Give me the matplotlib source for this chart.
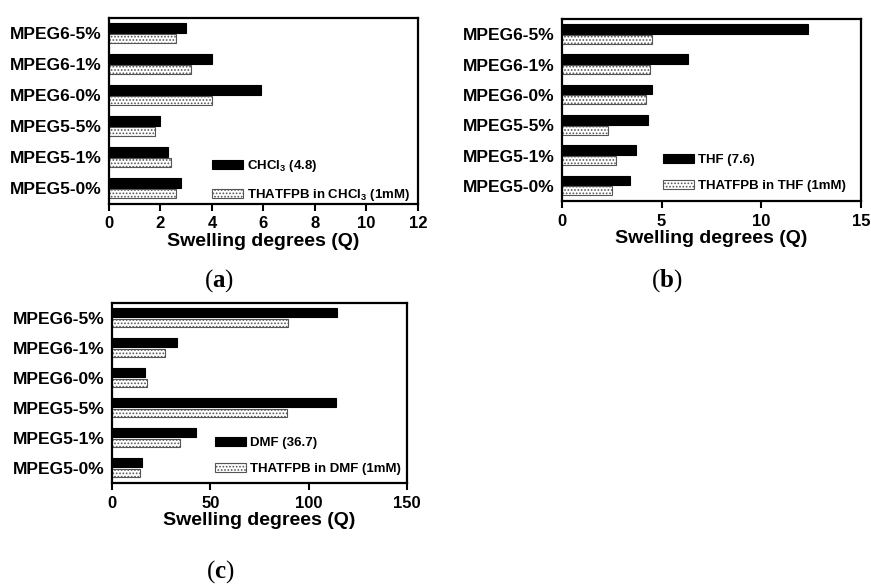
import numpy as np
import matplotlib.pyplot as plt

plt.rcParams['font.family'] = ['Liberation Sans', 'DejaVu Sans']
plt.rcParams['font.weight'] = 'bold'
plt.rcParams['mathtext.fontset'] = 'custom'
plt.rcParams['mathtext.rm'] = 'Liberation Sans:bold'
plt.rcParams['mathtext.bf'] = 'Liberation Serif:bold'
plt.rcParams['hatch.linewidth'] = 0.8

categories = ["MPEG5-0%", "MPEG5-1%", "MPEG5-5%", "MPEG6-0%", "MPEG6-1%", "MPEG6-5%"]

# (a) CHCl3
chcl3 = [2.8, 2.3, 2.0, 5.9, 4.0, 3.0]
chcl3_thatfpb = [2.6, 2.4, 1.8, 4.0, 3.2, 2.6]
# (b) THF
thf = [3.4, 3.7, 4.3, 4.5, 6.3, 12.35]
thf_thatfpb = [2.5, 2.7, 2.3, 4.2, 4.4, 4.5]
# (c) DMF
dmf = [15, 42.5, 114, 17, 33, 114.5]
dmf_thatfpb = [14, 34.5, 89, 18, 27, 89.5]

panels = [
    dict(rect=[0.1251, 0.6507, 0.3548, 0.3185], solid=chcl3, dotted=chcl3_thatfpb,
         labels=[r'CHCl$_\mathrm{3}$ (4.8)', r'THATFPB in CHCl$_\mathrm{3}$ (1mM)'],
         xmax=12, xticks=[0, 2, 4, 6, 8, 10, 12], leg=(0.333, 0.005),
         tag='a', tagpos=(219, 281)),
    dict(rect=[0.6452, 0.6558, 0.3433, 0.3116], solid=thf, dotted=thf_thatfpb,
         labels=['THF (7.6)', 'THATFPB in THF (1mM)'],
         xmax=15, xticks=[0, 5, 10, 15], leg=(0.338, 0.05),
         tag='b', tagpos=(667, 281)),
    dict(rect=[0.1286, 0.1729, 0.3387, 0.3082], solid=dmf, dotted=dmf_thatfpb,
         labels=['DMF (36.7)', 'THATFPB in DMF (1mM)'],
         xmax=150, xticks=[0, 50, 100, 150], leg=(0.349, 0.045),
         tag='c', tagpos=(220, 572)),
]

fig = plt.figure(figsize=(8.71, 5.84), dpi=100)
y = np.arange(len(categories))

for p in panels:
    ax = fig.add_axes(p['rect'])
    ax.barh(y + 0.18, p['solid'], height=0.32, color='black', edgecolor='black',
            linewidth=0.8, label=p['labels'][0])
    ax.barh(y - 0.165, p['dotted'], height=0.29, color='white', edgecolor='#555555',
            hatch='.....', linewidth=0.8, label=p['labels'][1])
    ax.set_xlim(0, p['xmax'])
    ax.set_ylim(-0.5, 5.5)
    ax.set_xticks(p['xticks'])
    ax.set_yticks(y)
    ax.set_yticklabels(categories, fontsize=12.5, fontweight='bold')
    ax.tick_params(axis='y', length=0, pad=5.5)
    ax.tick_params(axis='x', direction='out', length=5, width=1.5, pad=4, labelsize=12)
    for s in ax.spines.values():
        s.set_linewidth(1.6)
    ax.set_xlabel('Swelling degrees (Q)', fontsize=14, fontweight='bold', labelpad=1)
    ax.legend(loc='lower left', bbox_to_anchor=p['leg'], frameon=False,
              prop={'size': 9.5, 'weight': 'bold'}, handlelength=2.35,
              handleheight=0.7, handletextpad=0.3, labelspacing=1.0,
              borderpad=0, borderaxespad=0)
    tx, ty = p['tagpos']
    fig.text(tx / 871, 1 - ty / 584, r'($\mathbf{%s}$)' % p['tag'], ha='center', va='center',
             fontsize=18, fontweight='normal', family='Liberation Serif')

fig.savefig('out.png', dpi=100)
